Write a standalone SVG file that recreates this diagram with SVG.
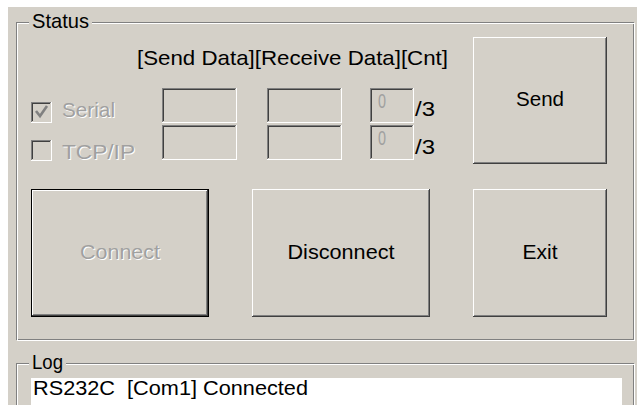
<svg xmlns="http://www.w3.org/2000/svg" width="639" height="405" viewBox="0 0 639 405">
  <style>
    .face { fill: #D4D0C8; }
    .hi { fill: #FFFFFF; }
    .sh { fill: #808080; }
    .dk { fill: #404040; }
    .blk { fill: #000000; }
    .etch-d { fill: none; stroke: #808080; stroke-width: 1; }
    .etch-l { fill: none; stroke: #FFFFFF; stroke-width: 1; }
    .t { font-family: "Liberation Sans", Arial, sans-serif; font-size: 21px; fill: #000000; }
    .dis { fill: #A0A0A0; }
    .emb { fill: #FFFFFF; }
  </style>

  <!-- window client area -->
  <rect x="0" y="0" width="639" height="405" fill="#FFFFFF"/>
  <rect x="8" y="7" width="629" height="398" class="face"/>

  <!-- Status group frame -->
  <g id="status-group">
    <rect x="16.5" y="22.5" width="617" height="317" class="etch-d"/>
    <rect x="17.5" y="23.5" width="617" height="317" class="etch-l"/>
    <rect x="29" y="18" width="63" height="9" class="face"/>
    <text x="32" y="28" class="t" textLength="57" lengthAdjust="spacingAndGlyphs">Status</text>
  </g>

  <!-- column headings -->
  <g id="headings">
    <text x="137" y="65" class="t" textLength="311" lengthAdjust="spacingAndGlyphs">[Send Data][Receive Data][Cnt]</text>
  </g>

  <!-- Serial checkbox (disabled, checked) -->
  <g id="chk-serial">
    <rect x="31" y="102" width="21" height="21" class="hi"/>
    <rect x="31" y="102" width="20" height="20" class="sh"/>
    <rect x="32" y="103" width="19" height="19" class="face"/>
    <rect x="32" y="103" width="18" height="18" class="dk"/>
    <rect x="33" y="104" width="17" height="17" class="face"/>
    <polyline points="36,111 40,116 47,106" fill="none" stroke="#808080" stroke-width="2.6"/>
    <text x="63" y="118" class="t emb" textLength="53" lengthAdjust="spacingAndGlyphs">Serial</text>
    <text x="62" y="117" class="t dis" textLength="53" lengthAdjust="spacingAndGlyphs">Serial</text>
  </g>

  <!-- TCP/IP checkbox (disabled, unchecked) -->
  <g id="chk-tcpip">
    <rect x="31" y="140" width="21" height="21" class="hi"/>
    <rect x="31" y="140" width="20" height="20" class="sh"/>
    <rect x="32" y="141" width="19" height="19" class="face"/>
    <rect x="32" y="141" width="18" height="18" class="dk"/>
    <rect x="33" y="142" width="17" height="17" class="face"/>
    <text x="63" y="160" class="t emb" textLength="73" lengthAdjust="spacingAndGlyphs">TCP/IP</text>
    <text x="62" y="159" class="t dis" textLength="73" lengthAdjust="spacingAndGlyphs">TCP/IP</text>
  </g>

  <!-- sunken edit fields -->
  <g id="edit-send-1">
    <rect x="162" y="88" width="75" height="35" class="hi"/>
    <rect x="162" y="88" width="74" height="34" class="sh"/>
    <rect x="163" y="89" width="73" height="33" class="face"/>
    <rect x="163" y="89" width="72" height="32" class="dk"/>
    <rect x="164" y="90" width="71" height="31" class="face"/>
  </g>
  <g id="edit-send-2">
    <rect x="162" y="125" width="75" height="35" class="hi"/>
    <rect x="162" y="125" width="74" height="34" class="sh"/>
    <rect x="163" y="126" width="73" height="33" class="face"/>
    <rect x="163" y="126" width="72" height="32" class="dk"/>
    <rect x="164" y="127" width="71" height="31" class="face"/>
  </g>
  <g id="edit-recv-1">
    <rect x="267" y="88" width="75" height="35" class="hi"/>
    <rect x="267" y="88" width="74" height="34" class="sh"/>
    <rect x="268" y="89" width="73" height="33" class="face"/>
    <rect x="268" y="89" width="72" height="32" class="dk"/>
    <rect x="269" y="90" width="71" height="31" class="face"/>
  </g>
  <g id="edit-recv-2">
    <rect x="267" y="125" width="75" height="35" class="hi"/>
    <rect x="267" y="125" width="74" height="34" class="sh"/>
    <rect x="268" y="126" width="73" height="33" class="face"/>
    <rect x="268" y="126" width="72" height="32" class="dk"/>
    <rect x="269" y="127" width="71" height="31" class="face"/>
  </g>
  <g id="edit-cnt-1">
    <rect x="370" y="88" width="44" height="35" class="hi"/>
    <rect x="370" y="88" width="43" height="34" class="sh"/>
    <rect x="371" y="89" width="42" height="33" class="face"/>
    <rect x="371" y="89" width="41" height="32" class="dk"/>
    <rect x="372" y="90" width="40" height="31" class="face"/>
    <text x="378" y="108" class="t dis" font-size="17" textLength="8" lengthAdjust="spacingAndGlyphs">0</text>
    <text x="415" y="116" class="t" textLength="20" lengthAdjust="spacingAndGlyphs">/3</text>
  </g>
  <g id="edit-cnt-2">
    <rect x="370" y="125" width="44" height="35" class="hi"/>
    <rect x="370" y="125" width="43" height="34" class="sh"/>
    <rect x="371" y="126" width="42" height="33" class="face"/>
    <rect x="371" y="126" width="41" height="32" class="dk"/>
    <rect x="372" y="127" width="40" height="31" class="face"/>
    <text x="378" y="145" class="t dis" font-size="17" textLength="8" lengthAdjust="spacingAndGlyphs">0</text>
    <text x="415" y="154" class="t" textLength="20" lengthAdjust="spacingAndGlyphs">/3</text>
  </g>

  <!-- raised push buttons -->
  <g id="btn-send">
    <rect x="473" y="37" width="134" height="127" class="dk"/>
    <rect x="473" y="37" width="133" height="126" class="hi"/>
    <rect x="474" y="38" width="132" height="125" class="sh"/>
    <rect x="474" y="38" width="131" height="124" class="face"/>
    <text x="540" y="106" class="t" text-anchor="middle" textLength="48" lengthAdjust="spacingAndGlyphs">Send</text>
  </g>

  <g id="btn-connect">
    <rect x="31" y="189" width="178" height="128" class="blk"/>
    <rect x="32" y="190" width="176" height="126" class="dk"/>
    <rect x="32" y="190" width="175" height="125" class="hi"/>
    <rect x="33" y="191" width="174" height="124" class="sh"/>
    <rect x="33" y="191" width="173" height="123" class="face"/>
    <text x="121" y="260" class="t emb" text-anchor="middle" textLength="80" lengthAdjust="spacingAndGlyphs">Connect</text>
    <text x="120" y="259" class="t dis" text-anchor="middle" textLength="80" lengthAdjust="spacingAndGlyphs">Connect</text>
  </g>

  <g id="btn-disconnect">
    <rect x="252" y="189" width="178" height="128" class="dk"/>
    <rect x="252" y="189" width="177" height="127" class="hi"/>
    <rect x="253" y="190" width="176" height="126" class="sh"/>
    <rect x="253" y="190" width="175" height="125" class="face"/>
    <text x="341" y="259" class="t" text-anchor="middle" textLength="107" lengthAdjust="spacingAndGlyphs">Disconnect</text>
  </g>

  <g id="btn-exit">
    <rect x="473" y="189" width="134" height="128" class="dk"/>
    <rect x="473" y="189" width="133" height="127" class="hi"/>
    <rect x="474" y="190" width="132" height="126" class="sh"/>
    <rect x="474" y="190" width="131" height="125" class="face"/>
    <text x="540" y="259" class="t" text-anchor="middle" textLength="35" lengthAdjust="spacingAndGlyphs">Exit</text>
  </g>

  <!-- Log group frame and output box -->
  <g id="log-group">
    <rect x="16.5" y="363.5" width="617" height="60" class="etch-d"/>
    <rect x="17.5" y="364.5" width="617" height="60" class="etch-l"/>
    <rect x="29" y="359" width="37" height="9" class="face"/>
    <text x="32" y="369" class="t" textLength="31" lengthAdjust="spacingAndGlyphs">Log</text>
    <rect x="31" y="378" width="591" height="27" fill="#FFFFFF"/>
    <text x="33" y="395" class="t" xml:space="preserve" textLength="275" lengthAdjust="spacingAndGlyphs">RS232C  [Com1] Connected</text>
  </g>
</svg>
